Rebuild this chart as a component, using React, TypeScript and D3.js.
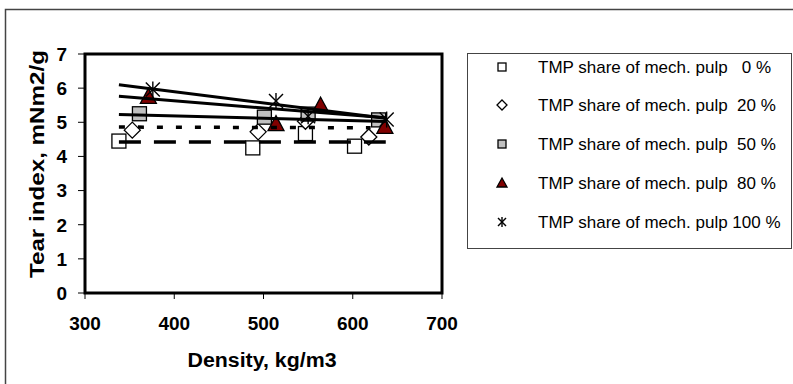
import React from "react";
import * as d3 from "d3";

const xTicks = [300, 400, 500, 600, 700];
const yTicks = [0, 1, 2, 3, 4, 5, 6, 7];

const seriesNames = [
  "TMP share of mech. pulp   0 %",
  "TMP share of mech. pulp  20 %",
  "TMP share of mech. pulp  50 %",
  "TMP share of mech. pulp  80 %",
  "TMP share of mech. pulp 100 %",
];

const pts0 = [[338, 4.45], [488, 4.25], [547, 4.67], [602, 4.3]];
const pts20 = [[353, 4.77], [494, 4.72], [547, 5.03], [618, 4.57]];
const pts50 = [[361, 5.25], [501, 5.15], [550, 5.24], [629, 5.07]];
const pts80 = [[371, 5.76], [514, 4.96], [564, 5.5], [636, 4.88]];
const pts100 = [[376, 5.96], [514, 5.62], [550, 5.18], [638, 5.08]];

const trend0 = [[338, 4.42], [637, 4.42]];
const trend20 = [[338, 4.86], [620, 4.84]];
const trend50 = [[338, 5.23], [637, 5.02]];
const trend80 = [[338, 5.76], [637, 5.13]];
const trend100 = [[338, 6.1], [637, 5.12]];

const allPts = [pts0, pts20, pts50, pts80, pts100];
const kinds = ["square", "diamond", "greysquare", "triangle", "star"];
const trends = [
  { d: trend0, dash: "22 13", w: 3.5 },
  { d: trend20, dash: "6 13", w: 3.5 },
  { d: trend50, dash: null, w: 3 },
  { d: trend80, dash: null, w: 3 },
  { d: trend100, dash: null, w: 3 },
];

function Marker({ kind, x, y, s }: { kind: string; x: number; y: number; s: number }) {
  const h = s / 2;
  if (kind === "square" || kind === "greysquare") {
    return (
      <rect x={x - h} y={y - h} width={s} height={s}
        fill={kind === "square" ? "#fff" : "#c0c0c0"} stroke="#000" strokeWidth={1.3} />
    );
  }
  if (kind === "diamond") {
    return (
      <path d={`M${x},${y - h - 1}L${x + h + 1},${y}L${x},${y + h + 1}L${x - h - 1},${y}Z`}
        fill="#fff" stroke="#000" strokeWidth={1.3} />
    );
  }
  if (kind === "triangle") {
    return (
      <path d={`M${x},${y - h - 1}L${x + h + 1},${y + h}L${x - h - 1},${y + h}Z`}
        fill="#800000" stroke="#000" strokeWidth={1.3} />
    );
  }
  return (
    <g stroke="#000" strokeWidth={1.4}>
      <line x1={x - h} y1={y - h} x2={x + h} y2={y + h} />
      <line x1={x - h} y1={y + h} x2={x + h} y2={y - h} />
      <line x1={x} y1={y - h - 1} x2={x} y2={y + h + 1} />
    </g>
  );
}

export default function App() {
  const W = 793, H = 384;
  const x = d3.scaleLinear().domain([300, 700]).range([85, 442]);
  const y = d3.scaleLinear().domain([0, 7]).range([293, 54]);
  const line = d3.line<number[]>().x((d) => x(d[0])).y((d) => y(d[1]));
  const font = "Arial, 'Liberation Sans', sans-serif";
  const legendRows = [67, 105, 144, 183, 222];

  return (
    <svg width={W} height={H} style={{ position: "absolute", left: 0, top: 0 }}>
      <rect x={0} y={0} width={W} height={H} fill="#fff" />
      <rect x={5.5} y={9.5} width={800} height={400} fill="none" stroke="#444" strokeWidth={1.5} />

      {/* y ticks */}
      {yTicks.map((t) => (
        <g key={"y" + t}>
          <line x1={78} x2={85} y1={y(t)} y2={y(t)} stroke="#000" strokeWidth={1} />
          <text x={67} y={y(t)} dy="0.36em" textAnchor="end" fontFamily={font}
            fontWeight="bold" fontSize={19}>{t}</text>
        </g>
      ))}
      {/* x ticks */}
      {xTicks.map((t) => (
        <g key={"x" + t}>
          <line x1={x(t)} x2={x(t)} y1={293} y2={299} stroke="#000" strokeWidth={1} />
          <text x={x(t)} y={330} textAnchor="middle" fontFamily={font}
            fontWeight="bold" fontSize={19}>{t}</text>
        </g>
      ))}

      {/* markers */}
      {allPts.map((pts, i) =>
        pts.map((p, j) => (
          <Marker key={i + "-" + j} kind={kinds[i]} x={x(p[0])} y={y(p[1])} s={14} />
        ))
      )}

      {/* trend lines */}
      {trends.map((t, i) => (
        <path key={"t" + i} d={line(t.d as any) || ""} fill="none" stroke="#000"
          strokeWidth={t.w} strokeDasharray={t.dash || undefined} />
      ))}

      {/* plot frame */}
      <rect x={85} y={54} width={357} height={239} fill="none" stroke="#000" strokeWidth={3} />

      {/* axis titles */}
      <text x={262} y={367} textAnchor="middle" fontFamily={font} fontWeight="bold"
        fontSize={20} textLength={149} lengthAdjust="spacingAndGlyphs">Density, kg/m3</text>
      <text transform="translate(44,164) rotate(-90)" textAnchor="middle" fontFamily={font}
        fontWeight="bold" fontSize={21} textLength={228} lengthAdjust="spacingAndGlyphs">
        Tear index, mNm2/g
      </text>

      {/* legend */}
      <rect x={467.5} y={53.5} width={324} height={195} fill="#fff" stroke="#444" strokeWidth={1} />
      {seriesNames.map((n, i) => (
        <g key={"l" + i}>
          <Marker kind={kinds[i]} x={502} y={legendRows[i]} s={8} />
          <text x={538} y={legendRows[i]} dy="0.36em" fontFamily={font} fontSize={17}
            style={{ whiteSpace: "pre" }}>{n}</text>
        </g>
      ))}
    </svg>
  );
}
